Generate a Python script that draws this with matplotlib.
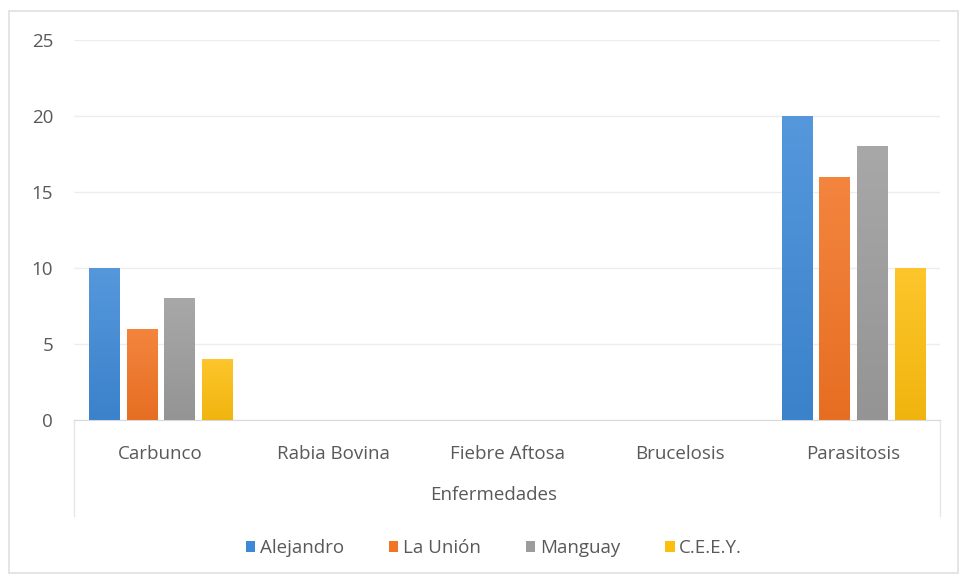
import numpy as np
import matplotlib.pyplot as plt
from matplotlib.colors import to_rgb
from matplotlib.patches import Patch, Rectangle

categories = ["Carbunco", "Rabia Bovina", "Fiebre Aftosa", "Brucelosis", "Parasitosis"]
series = ["Alejandro", "La Unión", "Manguay", "C.E.E.Y."]
alejandro = [10, 0, 0, 0, 20]
la_union = [6, 0, 0, 0, 16]
manguay = [8, 0, 0, 0, 18]
ceey = [4, 0, 0, 0, 10]
yticks = [0, 5, 10, 15, 20, 25]

colors = ["#3E89D6", "#F27424", "#9C9C9C", "#FDBE0F"]
text_color = "#595959"

plt.rcParams["font.family"] = ["Open Sans", "DejaVu Sans"]

fig = plt.figure(figsize=(9.63, 5.81), dpi=100)
ax = fig.add_axes([74 / 963, 1 - 420 / 581, 866 / 963, 380 / 581])

# light frame around the chart area
fig.patches.append(Rectangle((9 / 963, 8 / 581), 949 / 963, 562 / 581, transform=fig.transFigure,
                             fill=False, edgecolor="#E0E0E0", linewidth=1.2))


def shade(c, f):
    r = np.array(to_rgb(c))
    if f >= 0:
        return r + (1 - r) * f
    return r * (1 + f)


x = np.arange(len(categories))
width = 0.175
step = 0.217
all_values = [alejandro, la_union, manguay, ceey]

for i, (vals, col) in enumerate(zip(all_values, colors)):
    offs = (i - 1.5) * step
    bars = ax.bar(x + offs, vals, width=width, color="none", edgecolor="none", zorder=3)
    top, bot = shade(col, 0.12), shade(col, -0.05)
    grad = np.linspace(0, 1, 64)[:, None, None]
    img = top * (1 - grad) + bot * grad
    for b in bars:
        h = b.get_height()
        if h <= 0:
            continue
        x0 = b.get_x()
        im = ax.imshow(img, extent=(x0, x0 + width, 0, h), aspect="auto", zorder=3,
                       interpolation="bilinear", origin="upper")
        im.set_clip_path(b)

ax.set_xlim(-0.5, len(categories) - 0.5)
ax.set_ylim(0, 25)
ax.set_yticks(yticks)
ax.set_xticks(x)
ax.set_xticklabels(categories)
ax.grid(axis="y", color="#EDEDED", linewidth=1.0, zorder=0)
ax.set_axisbelow(True)
for s in ["top", "right", "left"]:
    ax.spines[s].set_visible(False)
ax.spines["bottom"].set_color("#D9D9D9")
ax.tick_params(axis="both", length=0, labelsize=13.5, colors=text_color)
ax.tick_params(axis="x", pad=18)
ax.tick_params(axis="y", pad=15)

# faint boundary lines of the category axis
for xe in (-0.5, len(categories) - 0.5):
    ax.plot([xe, xe], [0, -6.3], color="#E6E6E6", linewidth=1, clip_on=False)

fig.text(494 / 963, 1 - 495 / 581, "Enfermedades", ha="center", va="center",
         fontsize=13.5, color=text_color)

handles = [Patch(facecolor=c, edgecolor="none") for c in colors]
fig.legend(handles, series, loc="center", bbox_to_anchor=(494 / 963, 1 - 548 / 581), ncol=4,
           frameon=False, fontsize=13.5, labelcolor=text_color, handlelength=0.5, handleheight=0.5,
           handletextpad=0.25, columnspacing=2.4)

fig.savefig("out.png", dpi=100)
